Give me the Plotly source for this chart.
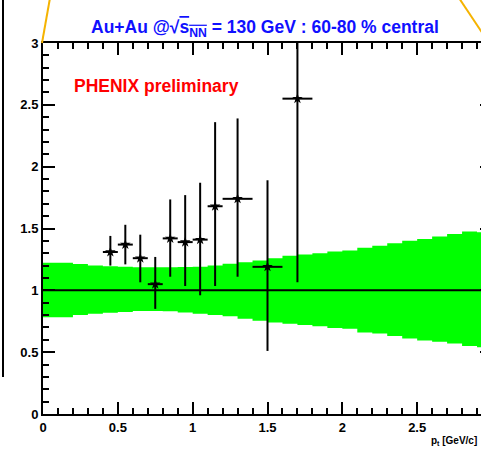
import plotly.graph_objects as go

# ---- data ----
pt = [0.45, 0.55, 0.65, 0.75, 0.85, 0.95, 1.05, 1.15, 1.3, 1.5, 1.7]
ratio = [1.31, 1.37, 1.26, 1.05, 1.42, 1.39, 1.41, 1.68, 1.74, 1.19, 2.55]
ratio_hi = [1.44, 1.53, 1.45, 1.27, 1.735, 1.77, 1.87, 2.36, 2.39, 1.89, 3.3]
ratio_lo = [1.20, 1.21, 1.065, 0.85, 1.11, 1.035, 0.96, 1.035, 1.11, 0.51, 1.065]
pt_err = [0.05, 0.05, 0.05, 0.05, 0.05, 0.05, 0.05, 0.05, 0.1, 0.1, 0.1]

band_pt = [0.0, 0.1, 0.2, 0.3, 0.4, 0.5, 0.6, 0.7, 0.8, 0.9, 1.0, 1.1, 1.2, 1.3, 1.4,
           1.5, 1.6, 1.7, 1.8, 1.9, 2.0, 2.1, 2.2, 2.3, 2.4, 2.5, 2.6, 2.7, 2.8, 2.9, 3.0]
band_hi = [1.223, 1.223, 1.213, 1.200, 1.195, 1.190, 1.187, 1.186, 1.186, 1.188, 1.190,
           1.200, 1.215, 1.228, 1.242, 1.260, 1.280, 1.290, 1.300, 1.315, 1.322, 1.345,
           1.360, 1.380, 1.400, 1.415, 1.435, 1.455, 1.475, 1.470, 1.470]
band_lo = [0.782, 0.782, 0.800, 0.810, 0.819, 0.825, 0.833, 0.833, 0.830, 0.820, 0.810,
           0.800, 0.790, 0.770, 0.755, 0.740, 0.730, 0.720, 0.710, 0.695, 0.690, 0.660,
           0.650, 0.630, 0.610, 0.595, 0.585, 0.570, 0.550, 0.540, 0.540]

ref_level = 1.0
x_ticks = [0, 0.5, 1, 1.5, 2, 2.5, 3]
x_tick_labels = ["0", "0.5", "1", "1.5", "2", "2.5", "3"]
y_ticks = [0, 0.5, 1, 1.5, 2, 2.5, 3]
y_tick_labels = ["0", "0.5", "1", "1.5", "2", "2.5", "3"]

# figure a little wider than the 481px window so the right frame falls just outside
W, H = 492, 453
L, R, T, B = 43, 0, 43, 39
PW, PH = W - L - R, H - T - B


def px(x):
    return (x - L) / PW


def py(y):
    return (H - B - y) / PH


fig = go.Figure()

fig.add_trace(go.Scatter(x=band_pt, y=band_lo, mode="lines", line=dict(width=0, shape="hv"),
                         showlegend=False, hoverinfo="skip"))
fig.add_trace(go.Scatter(x=band_pt, y=band_hi, mode="lines", line=dict(width=0, shape="hv"),
                         fill="tonexty", fillcolor="#00ff00", showlegend=False, hoverinfo="skip"))
fig.add_trace(go.Scatter(x=[band_pt[0], band_pt[-1]], y=[ref_level, ref_level], mode="lines",
                         line=dict(color="black", width=2), showlegend=False))

fig.add_trace(go.Scatter(
    x=pt, y=ratio, mode="markers",
    marker=dict(symbol="star", size=8, color="black"),
    error_y=dict(type="data", symmetric=False,
                 array=[h - v for h, v in zip(ratio_hi, ratio)],
                 arrayminus=[v - l for v, l in zip(ratio, ratio_lo)],
                 thickness=2, width=0, color="black"),
    error_x=dict(type="data", array=pt_err, thickness=2, width=0, color="black"),
    showlegend=False, cliponaxis=True))

axis_common = dict(
    showgrid=False, zeroline=False, showline=True, linecolor="black", linewidth=2,
    ticks="inside", ticklen=12, tickwidth=2, tickcolor="black", mirror="ticks",
    automargin=False,
    tickfont=dict(family="Liberation Sans", size=13, color="black", weight="bold"),
)

fig.update_xaxes(range=[0, 3], tickvals=x_ticks, ticktext=x_tick_labels,
                 minor=dict(ticks="inside", ticklen=6, tickwidth=2, dtick=0.1, tickcolor="black"),
                 **axis_common)
fig.update_yaxes(range=[0, 3], tickvals=y_ticks, ticktext=y_tick_labels,
                 minor=dict(ticks="inside", ticklen=6, tickwidth=2, dtick=0.1, tickcolor="black"),
                 **axis_common)

fig.add_annotation(
    text="Au+Au @√<span style='text-decoration:overline'>s<sub>NN</sub></span> = 130 GeV : 60-80 % central",
    xref="paper", yref="paper", x=px(265), y=py(28), showarrow=False,
    xanchor="center", yanchor="middle",
    font=dict(family="Liberation Sans", size=17.5, color="#1010ff", weight="bold"))
fig.add_annotation(
    text="PHENIX preliminary", xref="paper", yref="paper", x=px(156), y=py(86),
    showarrow=False, xanchor="center", yanchor="middle",
    font=dict(family="Liberation Sans", size=17.5, color="#ff0000", weight="bold"))
fig.add_annotation(
    text="p<sub>t</sub> [GeV/c]", xref="paper", yref="paper", x=px(479), y=py(441),
    showarrow=False, xanchor="right", yanchor="middle",
    font=dict(family="Liberation Sans", size=10, color="black", weight="bold"))

# decorative slide lines
fig.add_shape(type="line", xref="paper", yref="paper", x0=px(50), y0=py(-2), x1=px(42), y1=py(43),
              line=dict(color="#f5b301", width=2))
fig.add_shape(type="line", xref="paper", yref="paper", x0=px(459), y0=py(-2), x1=px(483), y1=py(34),
              line=dict(color="#f5b301", width=2))
fig.add_shape(type="line", xref="paper", yref="paper", x0=px(3), y0=py(-2), x1=px(3), y1=py(377),
              line=dict(color="black", width=2))

fig.update_layout(
    width=W, height=H, margin=dict(l=L, r=R, t=T, b=B, pad=0, autoexpand=False),
    paper_bgcolor="white", plot_bgcolor="white",
    font=dict(family="Liberation Sans"),
)

fig.write_html("out.html", config={"displayModeBar": False},
               post_script="document.body.style.margin='0';document.body.style.overflow='hidden';")
